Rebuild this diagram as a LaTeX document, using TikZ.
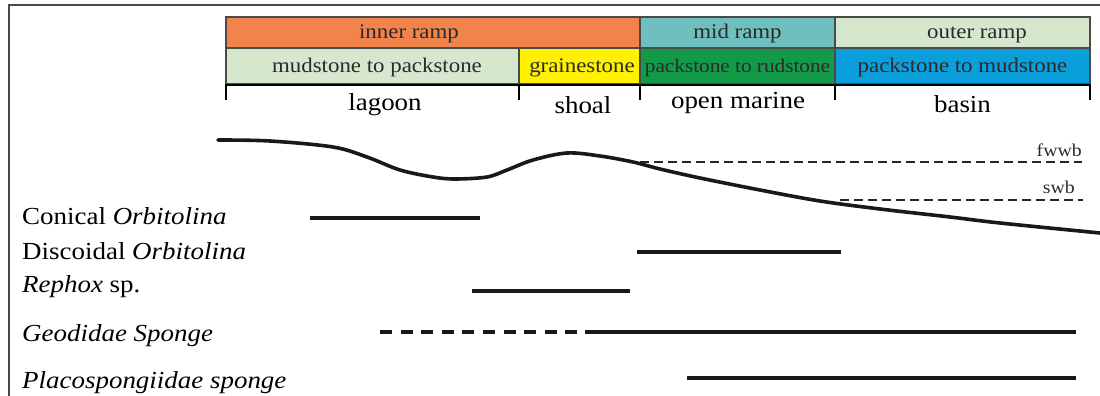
\documentclass[tikz,border=0pt]{standalone}
\usepackage{fontspec}
\setmainfont{Liberation Serif}[FakeStretch=1.1]
\definecolor{cOrange}{HTML}{F0844A}
\definecolor{cTeal}{HTML}{6FBFBF}
\definecolor{cPale}{HTML}{D5E8CE}
\definecolor{cYellow}{HTML}{FFF200}
\definecolor{cGreen}{HTML}{139A48}
\definecolor{cBlue}{HTML}{0A9FDB}
\definecolor{cFrame}{HTML}{4A4A4A}
\definecolor{cText}{HTML}{2A2A2A}
\tikzset{
  cell/.style={draw=cFrame, line width=1.1pt, inner sep=0pt, outer sep=0pt, anchor=north west},
  celltext/.style={inner sep=0pt, anchor=base, text=cText, font=\fontsize{20.8}{22}\selectfont},
  envtext/.style={inner sep=0pt, anchor=base, font=\fontsize{24.5}{26}\selectfont},
  sptext/.style={inner sep=0pt, anchor=base west, font=\fontsize{24.5}{26}\selectfont},
  smalltext/.style={inner sep=0pt, anchor=base east, text=cText, font=\fontsize{18}{20}\selectfont},
  rangeline/.style={line width=3.2pt, draw=black!90},
  wavebase/.style={line width=1.5pt, draw=black!85, dash pattern=on 9pt off 5pt},
}
\begin{document}
\begin{tikzpicture}[x=1pt,y=-1pt]
\useasboundingbox (0,0) rectangle (1100,396);
% frame
\draw[cFrame, line width=1.5pt] (9,396) -- (9,5) -- (1100,5);
% row 1
\node[cell, fill=cOrange, minimum width=414pt, minimum height=31pt] (inner) at (226,17) {};
\node[cell, fill=cTeal, minimum width=195pt, minimum height=31pt] (mid) at (640,17) {};
\node[cell, fill=cPale, minimum width=255pt, minimum height=31pt] (outer) at (835,17) {};
% row 2
\node[cell, fill=cPale, minimum width=293pt, minimum height=36pt] (mud) at (226,48) {};
\node[cell, fill=cYellow, minimum width=121pt, minimum height=36pt] (grain) at (519,48) {};
\node[cell, fill=cGreen, minimum width=195pt, minimum height=36pt] (rud) at (640,48) {};
\node[cell, fill=cBlue, minimum width=255pt, minimum height=36pt] (pmud) at (835,48) {};
% texts
\node[celltext] (tinner) at (409,39) {inner ramp};
\node[celltext] (tmid) at (737.5,39) {mid ramp};
\node[celltext] (touter) at (977,39) {outer ramp};
\node[celltext] (tmud) at (377,73) {mudstone to packstone};
\node[celltext] (tgrain) at (582,73) {grainestone};
\node[celltext, font=\fontsize{19.3}{21}\selectfont] (trud) at (737.5,73) {packstone to rudstone};
\node[celltext] (tpmud) at (962.5,73) {packstone to mudstone};
% base line and ticks
\draw[line width=2.8pt] (226,85) -- (1090,85);
\foreach \x/\n in {226/a,519/b,640/c,835/d,1090/e}
  \draw[line width=2.2pt] (\x,84) coordinate (tk\n) -- (\x,100);
\node[envtext] (lagoon) at (385,110) {lagoon};
\node[envtext] (shoal) at (583,113) {shoal};
\node[envtext] (openm) at (738,108) {open marine};
\node[envtext] (basin) at (962.5,112) {basin};
% wave base levels
\draw[wavebase] (640,162) coordinate (fw1) -- (1082,162) coordinate (fw2);
\draw[wavebase] (840,200) coordinate (sw1) -- (1083,200) coordinate (sw2);
\node[smalltext] (fwwb) at (1082,156) {fwwb};
\node[smalltext] (swb) at (1075,193) {swb};
% sea floor profile
\draw[line width=3.6pt, black!90, line cap=round] plot[smooth, tension=0.55] coordinates {
 (218,140) (270,141) (333,147) (367,157) (400,170) (433,177) (455,179) (487,177)
 (507,170) (533,160) (567,153) (600,156) (633,162) (660,169) (700,178) (760,190)
 (820,201) (880,209) (950,217) (1000,223) (1100,233)};
% species labels
\node[sptext] (conical) at (22,224) {Conical \textit{Orbitolina}};
\node[sptext] (discoidal) at (22,259) {Discoidal \textit{Orbitolina}};
\node[sptext] (rephox) at (22,292) {\textit{Rephox} sp.};
\node[sptext] (geod) at (22,341) {\textit{Geodidae Sponge}};
\node[sptext] (placo) at (22,388) {\textit{Placospongiidae sponge}};
% ranges
\draw[rangeline] (310,218) coordinate (r1a) -- (480,218) coordinate (r1b);
\draw[rangeline] (637,252) coordinate (r2a) -- (841,252) coordinate (r2b);
\draw[rangeline] (472,291) coordinate (r3a) -- (630,291) coordinate (r3b);
\draw[rangeline, dash pattern=on 12pt off 8.6pt] (380,332) coordinate (r4a) -- (580,332) coordinate (r4b);
\draw[rangeline] (585,332) coordinate (r4c) -- (1076,332) coordinate (r4d);
\draw[rangeline] (687,378) coordinate (r5a) -- (1076,378) coordinate (r5b);
\end{tikzpicture}
\end{document}
